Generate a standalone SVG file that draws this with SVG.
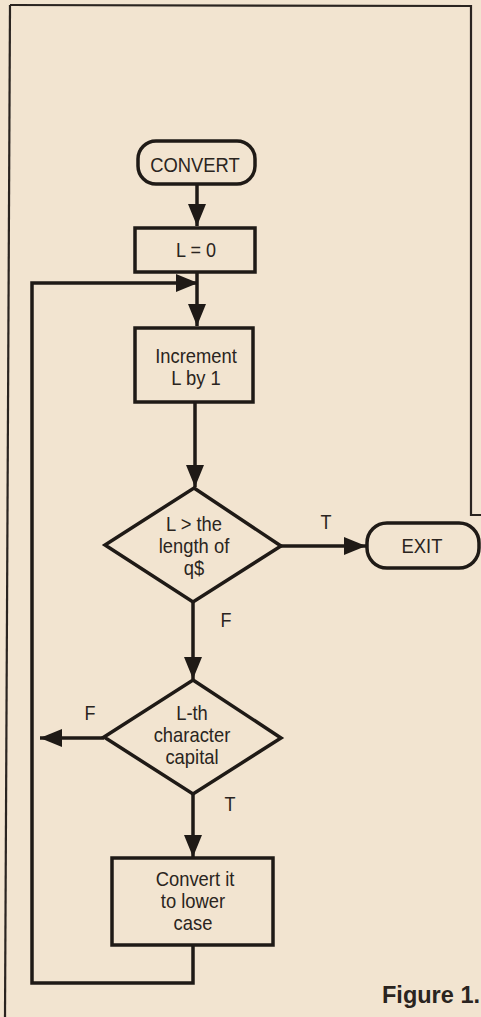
<svg xmlns="http://www.w3.org/2000/svg" width="481" height="1017" viewBox="0 0 481 1017">
<defs>
<style>
.shape{fill:none;stroke:#1f1a16;stroke-width:3.5;stroke-linejoin:miter}
.frame{fill:none;stroke:#2a2420;stroke-width:2.2}
.conn{fill:none;stroke:#1f1a16;stroke-width:3.5}
.t{font-family:"Liberation Sans",Arial,sans-serif;font-size:20px;fill:#2a2420;text-anchor:middle}
.fig{font-family:"Liberation Sans",Arial,sans-serif;font-size:24px;font-weight:bold;fill:#2a2420}
</style>
<marker id="ah" markerUnits="userSpaceOnUse" markerWidth="24" markerHeight="20" refX="22" refY="9" orient="auto">
<path d="M0,0 L22,9 L0,18 z" fill="#1f1a16"/>
</marker>
</defs>
<rect x="0" y="0" width="481" height="1017" fill="#f2e4d0"/>
<g id="frame">
<path class="frame" d="M10,5 L471,6 L471,515 L481,515"/>
<path class="frame" d="M10,5 L5,1017"/>
</g>
<g id="connectors">
<path class="conn" d="M197,185 L197,226" marker-end="url(#ah)"/>
<path class="conn" d="M197,272 L197,326" marker-end="url(#ah)"/>
<path class="conn" d="M193,945 L193,983 L32,983 L32,283 L198,283" marker-end="url(#ah)"/>
<path class="conn" d="M195,402 L195,487" marker-end="url(#ah)"/>
<path class="conn" d="M281,546 L366,546" marker-end="url(#ah)"/>
<path class="conn" d="M193,602 L193,679" marker-end="url(#ah)"/>
<path class="conn" d="M104,738 L40,738" marker-end="url(#ah)"/>
<path class="conn" d="M193,794 L193,857" marker-end="url(#ah)"/>
<text class="t" transform="translate(326,529) scale(0.9,1)">T</text>
<text class="t" transform="translate(226,627) scale(0.9,1)">F</text>
<text class="t" transform="translate(90,720) scale(0.9,1)">F</text>
<text class="t" transform="translate(230,811) scale(0.9,1)">T</text>
</g>
<g id="convert">
<rect class="shape" x="138" y="141" width="117" height="43" rx="18"/>
<text class="t" transform="translate(195,172) scale(0.92,1)">CONVERT</text>
</g>
<g id="l0">
<rect class="shape" x="135" y="228" width="120" height="44"/>
<text class="t" transform="translate(196,257) scale(0.9,1)">L = 0</text>
</g>
<g id="increment">
<rect class="shape" x="135" y="328" width="118" height="74"/>
<text class="t" transform="translate(196,363) scale(0.92,1)">Increment</text>
<text class="t" transform="translate(196,385) scale(0.92,1)">L by 1</text>
</g>
<g id="cond1">
<path class="shape" d="M194,488 L281,546 L193,602 L105,545 Z"/>
<text class="t" transform="translate(194,531) scale(0.92,1)">L &gt; the</text>
<text class="t" transform="translate(194,553) scale(0.92,1)">length of</text>
<text class="t" transform="translate(194,575) scale(0.92,1)">q$</text>
</g>
<g id="exit">
<rect class="shape" x="367" y="523" width="112" height="45" rx="20"/>
<text class="t" transform="translate(422,553) scale(0.92,1)">EXIT</text>
</g>
<g id="cond2">
<path class="shape" d="M193,680 L281,738 L193,794 L104,737 Z"/>
<text class="t" transform="translate(192,720) scale(0.92,1)">L-th</text>
<text class="t" transform="translate(192,742) scale(0.92,1)">character</text>
<text class="t" transform="translate(192,764) scale(0.92,1)">capital</text>
</g>
<g id="lowercase">
<rect class="shape" x="112" y="858" width="161" height="87"/>
<text class="t" transform="translate(195,886) scale(0.92,1)">Convert it</text>
<text class="t" transform="translate(193,908) scale(0.92,1)">to lower</text>
<text class="t" transform="translate(193,930) scale(0.92,1)">case</text>
</g>
<g id="caption">
<text class="fig" x="382" y="1003" textLength="98" lengthAdjust="spacingAndGlyphs">Figure 1.</text>
</g>
</svg>
